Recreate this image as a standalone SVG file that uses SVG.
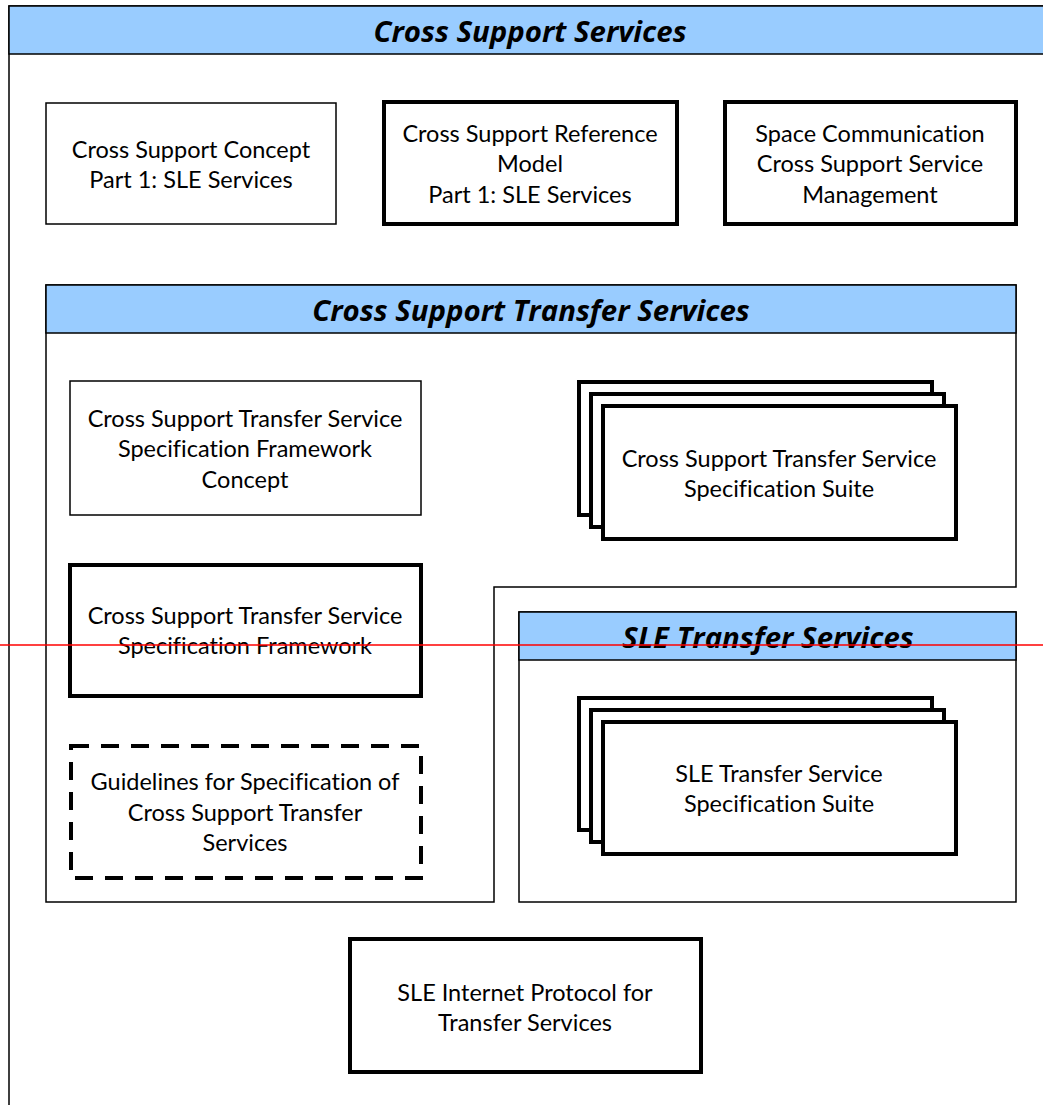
<svg xmlns="http://www.w3.org/2000/svg" width="1043" height="1105" viewBox="0 0 1043 1105">
<style>
.bg{fill:#ffffff}
.frame{fill:#ffffff;stroke:#000;stroke-width:1.5}
.hdr{fill:#99ccff;stroke:#000;stroke-width:1.5}
.thin{fill:#ffffff;stroke:#000;stroke-width:1.5}
.thick{fill:#ffffff;stroke:#000;stroke-width:4}
.dash{fill:#ffffff;stroke:#000;stroke-width:4;stroke-dasharray:18,12}
.t{font-family:Lato,"Open Sans","Liberation Sans",sans-serif;font-size:23.5px;fill:#000;text-anchor:middle;font-variant-ligatures:none}
.h{font-family:"Open Sans","Liberation Sans",sans-serif;font-size:29.4px;font-weight:bold;font-style:italic;fill:#000;text-anchor:middle}
</style>
<rect class="bg" x="0" y="0" width="1043" height="1105"/>
<g id="cross-support-services">
<path class="frame" d="M9,1110 V6 H1050"/>
<rect class="hdr" x="9" y="6" width="1045" height="48"/>
<text class="h" x="530" y="42">Cross Support Services</text>
</g>
<g id="cross-support-concept">
<rect class="thin" x="46" y="103" width="290" height="121"/>
<text class="t" x="191" y="158">Cross Support Concept</text>
<text class="t" x="191" y="188">Part 1: SLE Services</text>
</g>
<g id="cross-support-reference-model">
<rect class="thick" x="384" y="102" width="293" height="122"/>
<text class="t" x="530" y="142">Cross Support Reference</text>
<text class="t" x="530" y="172">Model</text>
<text class="t" x="530" y="203">Part 1: SLE Services</text>
</g>
<g id="service-management">
<rect class="thick" x="725" y="102" width="291" height="122"/>
<text class="t" x="870" y="142">Space Communication</text>
<text class="t" x="870" y="172">Cross Support Service</text>
<text class="t" x="870" y="203">Management</text>
</g>
<g id="cross-support-transfer-services">
<path class="frame" d="M46,285 H1016 V587 H494 V902 H46 Z"/>
<rect class="hdr" x="46" y="285" width="970" height="48"/>
<text class="h" x="531" y="321">Cross Support Transfer Services</text>
</g>
<g id="csts-framework-concept">
<rect class="thin" x="70" y="381" width="351" height="134"/>
<text class="t" x="245" y="427">Cross Support Transfer Service</text>
<text class="t" x="245" y="457">Specification Framework</text>
<text class="t" x="245" y="488">Concept</text>
</g>
<g id="csts-spec-suite">
<rect class="thick" x="579" y="382" width="353" height="133"/>
<rect class="thick" x="591" y="394" width="353" height="133"/>
<rect class="thick" x="603" y="406" width="353" height="133"/>
<text class="t" x="779" y="467">Cross Support Transfer Service</text>
<text class="t" x="779" y="497">Specification Suite</text>
</g>
<g id="csts-framework">
<rect class="thick" x="70" y="565" width="351" height="131"/>
<text class="t" x="245" y="624">Cross Support Transfer Service</text>
<text class="t" x="245" y="654">Specification Framework</text>
</g>
<g id="guidelines">
<rect class="dash" x="71" y="746" width="350" height="132"/>
<text class="t" x="245" y="790">Guidelines for Specification of</text>
<text class="t" x="245" y="821">Cross Support Transfer</text>
<text class="t" x="245" y="851">Services</text>
</g>
<g id="sle-transfer-services">
<rect class="frame" x="519" y="612" width="497" height="290"/>
<rect class="hdr" x="519" y="612" width="497" height="48"/>
<text class="h" x="768" y="648">SLE Transfer Services</text>
</g>
<g id="sle-spec-suite">
<rect class="thick" x="579" y="698" width="353" height="132"/>
<rect class="thick" x="591" y="710" width="353" height="132"/>
<rect class="thick" x="603" y="722" width="353" height="132"/>
<text class="t" x="779" y="782">SLE Transfer Service</text>
<text class="t" x="779" y="812">Specification Suite</text>
</g>
<g id="sle-internet-protocol">
<rect class="thick" x="350" y="939" width="351" height="133"/>
<text class="t" x="525" y="1001">SLE Internet Protocol for</text>
<text class="t" x="525" y="1031">Transfer Services</text>
</g>
<g id="connectors">
<line x1="0" y1="645" x2="1043" y2="645" stroke="#ff0000" stroke-width="1.5"/>
</g>
</svg>
